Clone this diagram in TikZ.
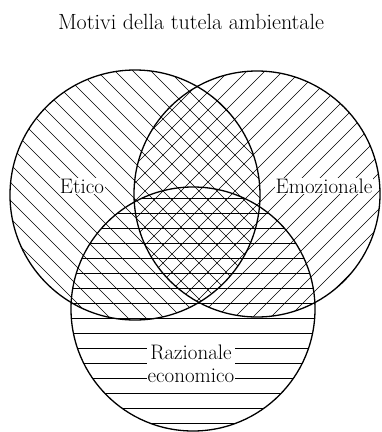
\documentclass[tikz,border=0pt]{standalone}
\usetikzlibrary{positioning}
\begin{document}
\begin{tikzpicture}[
  x=1pt,y=-1pt,
  ring/.style={draw,circle,line width=1.3pt,inner sep=0pt},
  hatch/.style={line width=0.65pt},
  rule/.style={line width=0.85pt},
  tag/.style={fill=white,inner sep=1pt,font=\fontsize{21}{23}\selectfont,align=center},
  title/.style={font=\fontsize{22}{25}\selectfont}
]
\useasboundingbox (0,0) rectangle (382,432);
\coordinate (cE) at (135,195);
\coordinate (cM) at (257,194);
\coordinate (cR) at (193,309);

% hatching, one direction per circle
\begin{scope}
  \clip (cE) circle (125);
  \foreach \d in {-460,-442,...,400} \draw[hatch] (\d,0) -- ++(460,460);
\end{scope}
\begin{scope}
  \clip (cM) circle (123);
  \foreach \d in {-60,-42,...,850} \draw[hatch] (\d,0) -- ++(-460,460);
\end{scope}
\begin{scope}
  \clip (cR) circle (122);
  \foreach \y in {198.3,213.3,...,432} \draw[rule] (0,\y) -- (382,\y);
\end{scope}

\node[ring,minimum size=250pt] (etico) at (cE) {};
\node[ring,minimum size=246pt] (emozionale) at (cM) {};
\node[ring,minimum size=244pt] (razionale) at (cR) {};

\node[title] (head) at (191,22) {Motivi della tutela ambientale};
\node[tag] (lE) at (82,186) {Etico};
\node[tag] (lM) at (324,186) {Emozionale};
\node[tag] (lR) at (191,364) {Razionale\\economico};
\end{tikzpicture}
\end{document}
